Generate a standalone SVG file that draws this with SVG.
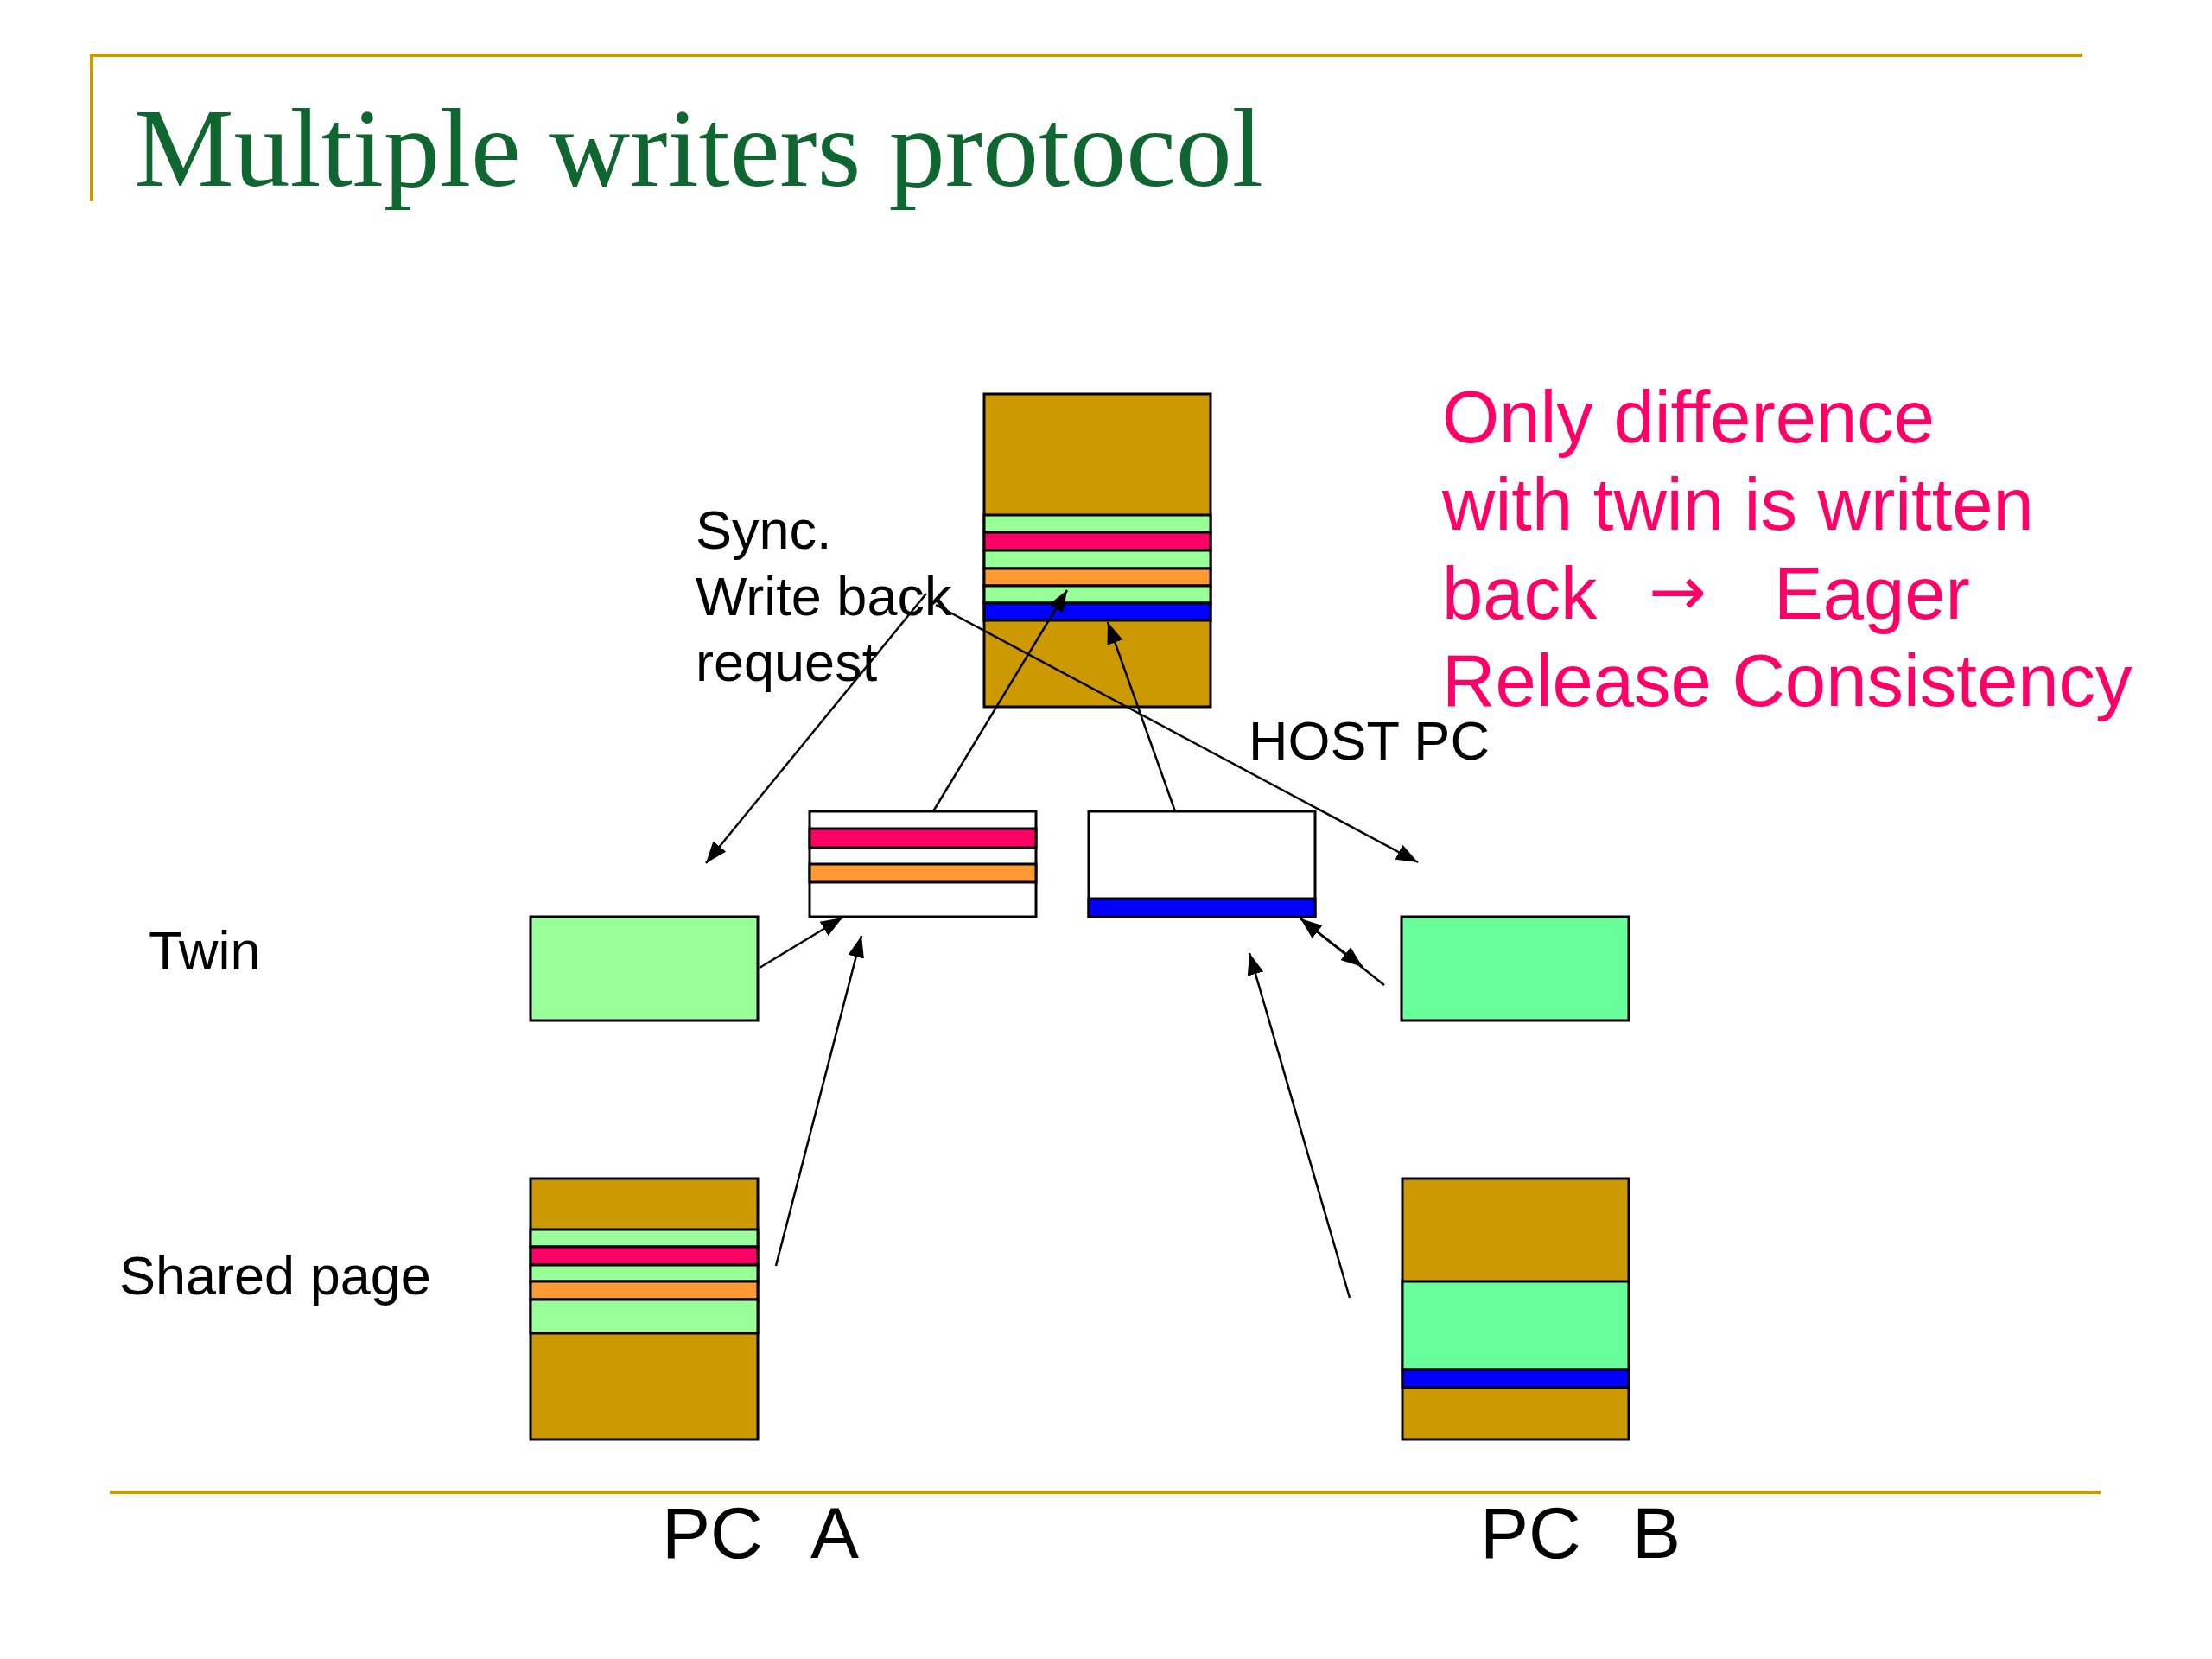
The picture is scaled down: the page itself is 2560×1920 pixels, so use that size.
<svg xmlns="http://www.w3.org/2000/svg" width="2560" height="1920" viewBox="0 0 2560 1920">
<style>
.gold{fill:#cc9900}
.pg{stroke:#000;stroke-width:3}
.lg{fill:#99ff99}
.mg{fill:#66ff99}
.rd{fill:#ff0066}
.or{fill:#ff9933}
.bl{fill:#0000ff}
.wh{fill:#ffffff}
.rule{stroke:#cc9900;stroke-width:4;fill:none}
.lbl{font-family:"Liberation Sans",Arial,sans-serif;font-size:63px;fill:#000}
.pc{font-family:"Liberation Sans",Arial,sans-serif;font-size:84px;fill:#000}
.note{font-family:"Liberation Sans",Arial,sans-serif;font-size:85px;fill:#ff0066}
.arr{font-family:"DejaVu Sans",sans-serif;font-size:80px}
.conn line{stroke:#000;stroke-width:2.5;fill:none;marker-end:url(#ah)}
</style>
<defs>
<marker id="ah" viewBox="0 0 10 10" refX="10" refY="5" markerUnits="userSpaceOnUse" markerWidth="25" markerHeight="19" orient="auto" preserveAspectRatio="none">
<path d="M0,0 L10,5 L0,10 z" fill="#000"/>
</marker>
</defs>
<rect width="2560" height="1920" fill="#fff"/>
<g id="frame">
<path class="rule" d="M106,233 V64 H2410"/>
<line class="rule" x1="127" y1="1727" x2="2431" y2="1727"/>
</g>
<text id="title" x="155" y="215" font-family="'Liberation Serif','Times New Roman',serif" font-size="130" fill="#0f6630">Multiple writers protocol</text>

<g id="host-page">
<rect class="gold pg" x="1139" y="456" width="262" height="362"/>
<rect class="lg pg" x="1139" y="596" width="262" height="20"/>
<rect class="rd pg" x="1139" y="616" width="262" height="21"/>
<rect class="lg pg" x="1139" y="637" width="262" height="21"/>
<rect class="or pg" x="1139" y="658" width="262" height="20"/>
<rect class="lg pg" x="1139" y="678" width="262" height="20"/>
<rect class="bl pg" x="1139" y="698" width="262" height="20"/>
</g>

<g id="diff-a">
<rect class="wh pg" x="937" y="939" width="262" height="122"/>
<rect class="rd pg" x="937" y="959" width="262" height="22"/>
<rect class="or pg" x="937" y="1000" width="262" height="21"/>
</g>

<g id="diff-b">
<rect class="wh pg" x="1260" y="939" width="262" height="122"/>
<rect class="bl pg" x="1260" y="1040" width="262" height="21"/>
</g>

<g id="twin-a">
<rect class="lg pg" x="614" y="1061" width="263" height="120"/>
</g>
<g id="twin-b">
<rect class="mg pg" x="1622" y="1061" width="263" height="120"/>
</g>

<g id="shared-a">
<rect class="gold pg" x="614" y="1364" width="263" height="302"/>
<rect class="lg pg" x="614" y="1423" width="263" height="20"/>
<rect class="rd pg" x="614" y="1443" width="263" height="21"/>
<rect class="lg pg" x="614" y="1464" width="263" height="19"/>
<rect class="or pg" x="614" y="1483" width="263" height="21"/>
<rect class="lg pg" x="614" y="1504" width="263" height="39"/>
</g>

<g id="shared-b">
<rect class="gold pg" x="1623" y="1364" width="262" height="302"/>
<rect class="mg pg" x="1623" y="1483" width="262" height="102"/>
<rect class="bl pg" x="1623" y="1585" width="262" height="21"/>
</g>

<g id="connectors" class="conn">
<line x1="1072" y1="687" x2="817" y2="999"/>
<line x1="1083" y1="700" x2="1641" y2="998"/>
<line x1="1080" y1="939" x2="1235" y2="683"/>
<line x1="1360" y1="939" x2="1282" y2="720"/>
<line x1="879" y1="1120" x2="975" y2="1062"/>
<line x1="898" y1="1465" x2="997" y2="1083"/>
<line x1="1562" y1="1502" x2="1446" y2="1103"/>
<line x1="1602" y1="1140" x2="1505" y2="1063"/>
<line x1="1505" y1="1063" x2="1577" y2="1119"/>
</g>

<g id="labels">
<text class="lbl" x="805" y="635">Sync.</text>
<text class="lbl" x="805" y="712">Write back</text>
<text class="lbl" x="805" y="788">request</text>
<text class="lbl" x="1445" y="879">HOST PC</text>
<text class="lbl" x="172" y="1122">Twin</text>
<text class="lbl" x="138" y="1498">Shared page</text>
<text class="pc" y="1803"><tspan x="766">PC</tspan> <tspan x="938">A</tspan></text>
<text class="pc" y="1803"><tspan x="1713">PC</tspan> <tspan x="1889">B</tspan></text>
</g>

<g id="note">
<text class="note" x="1669" y="512">Only difference</text>
<text class="note" x="1669" y="613">with twin is written</text>
<text class="note" y="716"><tspan x="1669">back</tspan> <tspan class="arr" x="1908" y="712">→</tspan> <tspan x="2053" y="716">Eager</tspan></text>
<text class="note" x="1669" y="817">Release Consistency</text>
</g>
</svg>
